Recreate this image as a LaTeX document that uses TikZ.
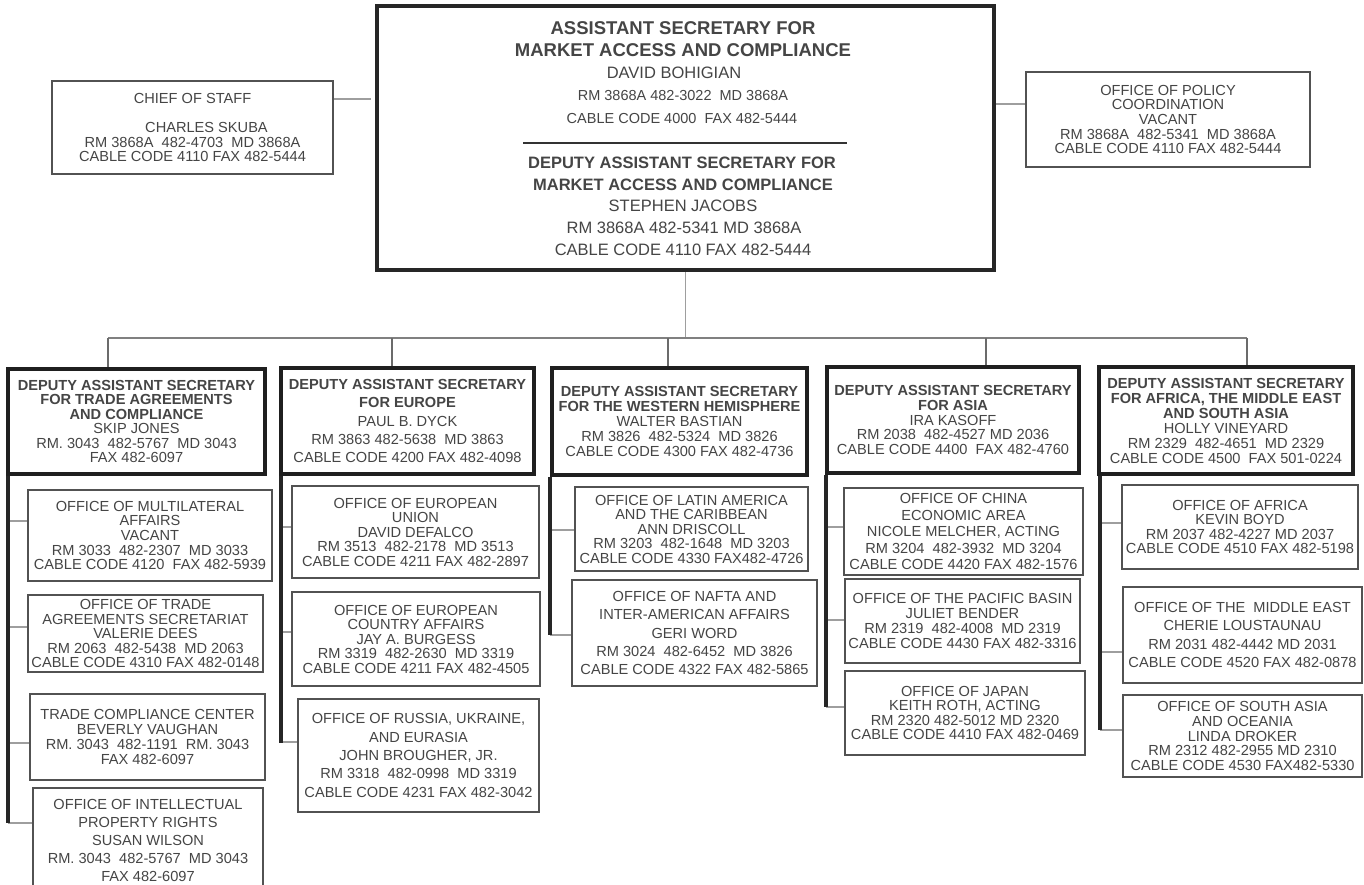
\documentclass[tikz,border=0pt]{standalone}
\usepackage{fontspec}
\setmainfont{Liberation Sans}
\definecolor{txt}{gray}{0.27}
\begin{document}
\begin{tikzpicture}[x=1pt,y=-1pt,
  box/.style={draw=black!68, line width=1.8pt, fill=white, inner sep=0pt, align=center, text=txt},
  headbox/.style={box, draw=black!88, line width=3.5pt},
  lsp/.style={font=\fontsize{14.6}{#1}\selectfont},
  tline/.style={inner sep=0pt, text=txt},
  conn/.style={draw=black!38, line width=1.5pt},
  busline/.style={draw=black!50, line width=1.8pt},
  drop/.style={draw=black!58, line width=1.8pt},
  trunk/.style={draw=black!85, line width=3.6pt}
]
\useasboundingbox (0,0) rectangle (1364,885);

% ---------- top level ----------
\node[box, draw=black!85, line width=4pt, minimum width=617pt, minimum height=264pt] (top) at (685.5,138) {};
\node[tline, font=\fontsize{18.5}{20}\selectfont\bfseries] (ta1) at (683,28) {ASSISTANT SECRETARY FOR};
\node[tline, font=\fontsize{18.5}{20}\selectfont\bfseries] (ta2) at (683,50) {MARKET ACCESS AND COMPLIANCE};
\node[tline, font=\fontsize{16.5}{18}\selectfont] (ta3) at (674,73) {DAVID BOHIGIAN};
\node[tline, font=\fontsize{14.5}{16}\selectfont] (ta4) at (683,96) {RM 3868A 482-3022~~MD 3868A};
\node[tline, font=\fontsize{14.5}{16}\selectfont] (ta5) at (682,119) {CABLE CODE 4000~~FAX 482-5444};
\coordinate (divL) at (523,143);
\coordinate (divR) at (847,143);
\draw[draw=black!80, line width=1.6pt] (divL) -- (divR);
\node[tline, font=\fontsize{16.5}{18}\selectfont\bfseries] (tb1) at (682,163) {DEPUTY ASSISTANT SECRETARY FOR};
\node[tline, font=\fontsize{16.5}{18}\selectfont\bfseries] (tb2) at (683,185) {MARKET ACCESS AND COMPLIANCE};
\node[tline, font=\fontsize{16.5}{18}\selectfont] (tb3) at (683,206) {STEPHEN JACOBS};
\node[tline, font=\fontsize{16.5}{18}\selectfont] (tb4) at (684,228) {RM 3868A 482-5341 MD 3868A};
\node[tline, font=\fontsize{16.5}{18}\selectfont] (tb5) at (683,250) {CABLE CODE 4110 FAX 482-5444};

\node[box, lsp=14.5, minimum width=281pt, minimum height=93pt] (chief) at (192.5,127.5)
  {CHIEF OF STAFF\\[14.5pt]\hspace*{28pt}CHARLES SKUBA\\RM 3868A~~482-4703~~MD 3868A\\CABLE CODE 4110 FAX 482-5444};
\node[box, lsp=14.7, minimum width=284pt, minimum height=95pt] (policy) at (1168,119.5)
  {OFFICE OF POLICY\\COORDINATION\\VACANT\\RM 3868A~~482-5341~~MD 3868A\\CABLE CODE 4110 FAX 482-5444};

\coordinate (cl) at (371,99);
\draw[conn] (chief.east |- cl) -- (cl);
\coordinate (cr) at (1026,104);
\draw[conn] (top.east |- cr) -- (policy.west |- cr);

% ---------- column heads ----------
\node[headbox, lsp=14.5, minimum width=257pt, minimum height=105pt] (h1) at (136.5,421.5)
  {\textbf{DEPUTY ASSISTANT SECRETARY}\\\textbf{FOR TRADE AGREEMENTS}\\\textbf{AND COMPLIANCE}\\SKIP JONES\\RM. 3043~~482-5767~~MD 3043\\FAX 482-6097};
\node[headbox, lsp=18.3, minimum width=253pt, minimum height=106pt] (h2) at (407.5,421)
  {\textbf{DEPUTY ASSISTANT SECRETARY}\\\textbf{FOR EUROPE}\\PAUL B. DYCK\\RM 3863 482-5638~~MD 3863\\CABLE CODE 4200 FAX 482-4098};
\node[headbox, lsp=15, minimum width=255pt, minimum height=107pt] (h3) at (679.5,421.5)
  {\textbf{DEPUTY ASSISTANT SECRETARY}\\\textbf{FOR THE WESTERN HEMISPHERE}\\WALTER BASTIAN\\RM 3826~~482-5324~~MD 3826\\CABLE CODE 4300 FAX 482-4736};
\node[headbox, lsp=14.6, minimum width=252pt, minimum height=106pt] (h4) at (953,420)
  {\textbf{DEPUTY ASSISTANT SECRETARY}\\\textbf{FOR ASIA}\\IRA KASOFF\\RM 2038~~482-4527 MD 2036\\CABLE CODE 4400~~FAX 482-4760};
\node[headbox, lsp=15, minimum width=254pt, minimum height=107pt] (h5) at (1226,420.5)
  {\textbf{DEPUTY ASSISTANT SECRETARY}\\\textbf{FOR AFRICA, THE MIDDLE EAST}\\\textbf{AND SOUTH ASIA}\\HOLLY VINEYARD\\RM 2329~~482-4651~~MD 2329\\CABLE CODE 4500~~FAX 501-0224};

% ---------- offices ----------
\node[box, lsp=14.6, minimum width=244pt, minimum height=91pt] (m1) at (150,535.5)
  {OFFICE OF MULTILATERAL\\AFFAIRS\\VACANT\\RM 3033~~482-2307~~MD 3033\\CABLE CODE 4120~~FAX 482-5939};
\node[box, lsp=14.5, minimum width=235pt, minimum height=77pt] (t1) at (145.5,633.5)
  {OFFICE OF TRADE\\AGREEMENTS SECRETARIAT\\VALERIE DEES\\RM 2063~~482-5438~~MD 2063\\CABLE CODE 4310 FAX 482-0148};
\node[box, lsp=14.8, minimum width=235pt, minimum height=86pt] (c1) at (147.5,737)
  {TRADE COMPLIANCE CENTER\\BEVERLY VAUGHAN\\RM. 3043~~482-1191~~RM. 3043\\FAX 482-6097};
\node[box, lsp=18, minimum width=230pt, minimum height=104pt] (i1) at (148,840)
  {OFFICE OF INTELLECTUAL\\PROPERTY RIGHTS\\SUSAN WILSON\\RM. 3043~~482-5767~~MD 3043\\FAX 482-6097};

\node[box, lsp=14.5, minimum width=247pt, minimum height=92pt] (e2) at (415.5,532)
  {OFFICE OF EUROPEAN\\UNION\\DAVID DEFALCO\\RM 3513~~482-2178~~MD 3513\\CABLE CODE 4211 FAX 482-2897};
\node[box, lsp=14.5, minimum width=248pt, minimum height=94pt] (a2) at (416,639)
  {OFFICE OF EUROPEAN\\COUNTRY AFFAIRS\\JAY A. BURGESS\\RM 3319~~482-2630~~MD 3319\\CABLE CODE 4211 FAX 482-4505};
\node[box, lsp=18.3, minimum width=241pt, minimum height=113pt] (r2) at (418.5,755.5)
  {OFFICE OF RUSSIA, UKRAINE,\\AND EURASIA\\JOHN BROUGHER, JR.\\RM 3318~~482-0998~~MD 3319\\CABLE CODE 4231 FAX 482-3042};

\node[box, lsp=14.5, minimum width=233pt, minimum height=84pt] (l3) at (691.5,529)
  {OFFICE OF LATIN AMERICA\\AND THE CARIBBEAN\\ANN DRISCOLL\\RM 3203~~482-1648~~MD 3203\\CABLE CODE 4330 FAX482-4726};
\node[box, lsp=18.3, minimum width=245pt, minimum height=106pt] (n3) at (694.5,633)
  {OFFICE OF NAFTA AND\\INTER-AMERICAN AFFAIRS\\GERI WORD\\RM 3024~~482-6452~~MD 3826\\CABLE CODE 4322 FAX 482-5865};

\node[box, lsp=16.5, minimum width=239pt, minimum height=87pt] (ch4) at (963.5,531.5)
  {OFFICE OF CHINA\\ECONOMIC AREA\\NICOLE MELCHER, ACTING\\RM 3204~~482-3932~~MD 3204\\CABLE CODE 4420 FAX 482-1576};
\node[box, lsp=15, minimum width=235pt, minimum height=84pt] (p4) at (962.5,621)
  {OFFICE OF THE PACIFIC BASIN\\JULIET BENDER\\RM 2319~~482-4008~~MD 2319\\CABLE CODE 4430 FAX 482-3316};
\node[box, lsp=14.5, minimum width=240pt, minimum height=84pt] (j4) at (965,713)
  {OFFICE OF JAPAN\\KEITH ROTH, ACTING\\RM 2320 482-5012 MD 2320\\CABLE CODE 4410 FAX 482-0469};

\node[box, lsp=14.5, minimum width=236pt, minimum height=84pt] (af5) at (1240,527)
  {OFFICE OF AFRICA\\KEVIN BOYD\\RM 2037 482-4227 MD 2037\\CABLE CODE 4510 FAX 482-5198};
\node[box, lsp=18.3, minimum width=239pt, minimum height=96pt] (me5) at (1242.5,635)
  {OFFICE OF THE~~MIDDLE EAST\\CHERIE LOUSTAUNAU\\RM 2031 482-4442 MD 2031\\CABLE CODE 4520 FAX 482-0878};
\node[box, lsp=14.6, minimum width=239pt, minimum height=82pt] (sa5) at (1242.5,736)
  {OFFICE OF SOUTH ASIA\\AND OCEANIA\\LINDA DROKER\\RM 2312 482-2955 MD 2310\\CABLE CODE 4530 FAX482-5330};

% ---------- bus and drops ----------
\coordinate (d1) at (108,338);
\coordinate (d2) at (392,338);
\coordinate (d3) at (668,338);
\coordinate (d4) at (986,338);
\coordinate (d5) at (1247,338);
\draw[conn] (top.south) -- (top.south |- d1);
\draw[busline] (d1) -- (d5);
\draw[drop] (d1) -- (d1 |- h1.north);
\draw[drop] (d2) -- (d2 |- h2.north);
\draw[drop] (d3) -- (d3 |- h3.north);
\draw[drop] (d4) -- (d4 |- h4.north);
\draw[drop] (d5) -- (d5 |- h5.north);

% ---------- trunks and branches ----------
\coordinate (k1) at ([xshift=2pt]h1.south west);
\coordinate (k2) at ([xshift=2pt]h2.south west);
\coordinate (k3) at ([xshift=0pt]h3.south west);
\coordinate (k4) at ([xshift=1pt]h4.south west);
\coordinate (k5) at ([xshift=3pt]h5.south west);

\draw[conn] (k1 |- 0,521) -- (m1.west |- 0,521);
\draw[conn] (k1 |- 0,627) -- (t1.west |- 0,627);
\draw[conn] (k1 |- 0,743) -- (c1.west |- 0,743);
\draw[conn] (k1 |- 0,823) -- (i1.west |- 0,823);
\draw[trunk] (k1) -- (k1 |- 0,823);

\draw[conn] (k2 |- 0,527) -- (e2.west |- 0,527);
\draw[conn] (k2 |- 0,632) -- (a2.west |- 0,632);
\draw[conn] (k2 |- 0,742) -- (r2.west |- 0,742);
\draw[trunk] (k2) -- (k2 |- 0,743);

\draw[conn] (k3 |- 0,530) -- (l3.west |- 0,530);
\draw[conn] (k3 |- 0,635) -- (n3.west |- 0,635);
\draw[trunk] (k3) -- (k3 |- 0,635);

\draw[conn] (k4 |- 0,527) -- (ch4.west |- 0,527);
\draw[conn] (k4 |- 0,620) -- (p4.west |- 0,620);
\draw[conn] (k4 |- 0,707) -- (j4.west |- 0,707);
\draw[trunk] (k4) -- (k4 |- 0,707);

\draw[conn] (k5 |- 0,523) -- (af5.west |- 0,523);
\draw[conn] (k5 |- 0,652) -- (me5.west |- 0,652);
\draw[conn] (k5 |- 0,730) -- (sa5.west |- 0,730);
\draw[trunk] (k5) -- (k5 |- 0,730);
\end{tikzpicture}
\end{document}
